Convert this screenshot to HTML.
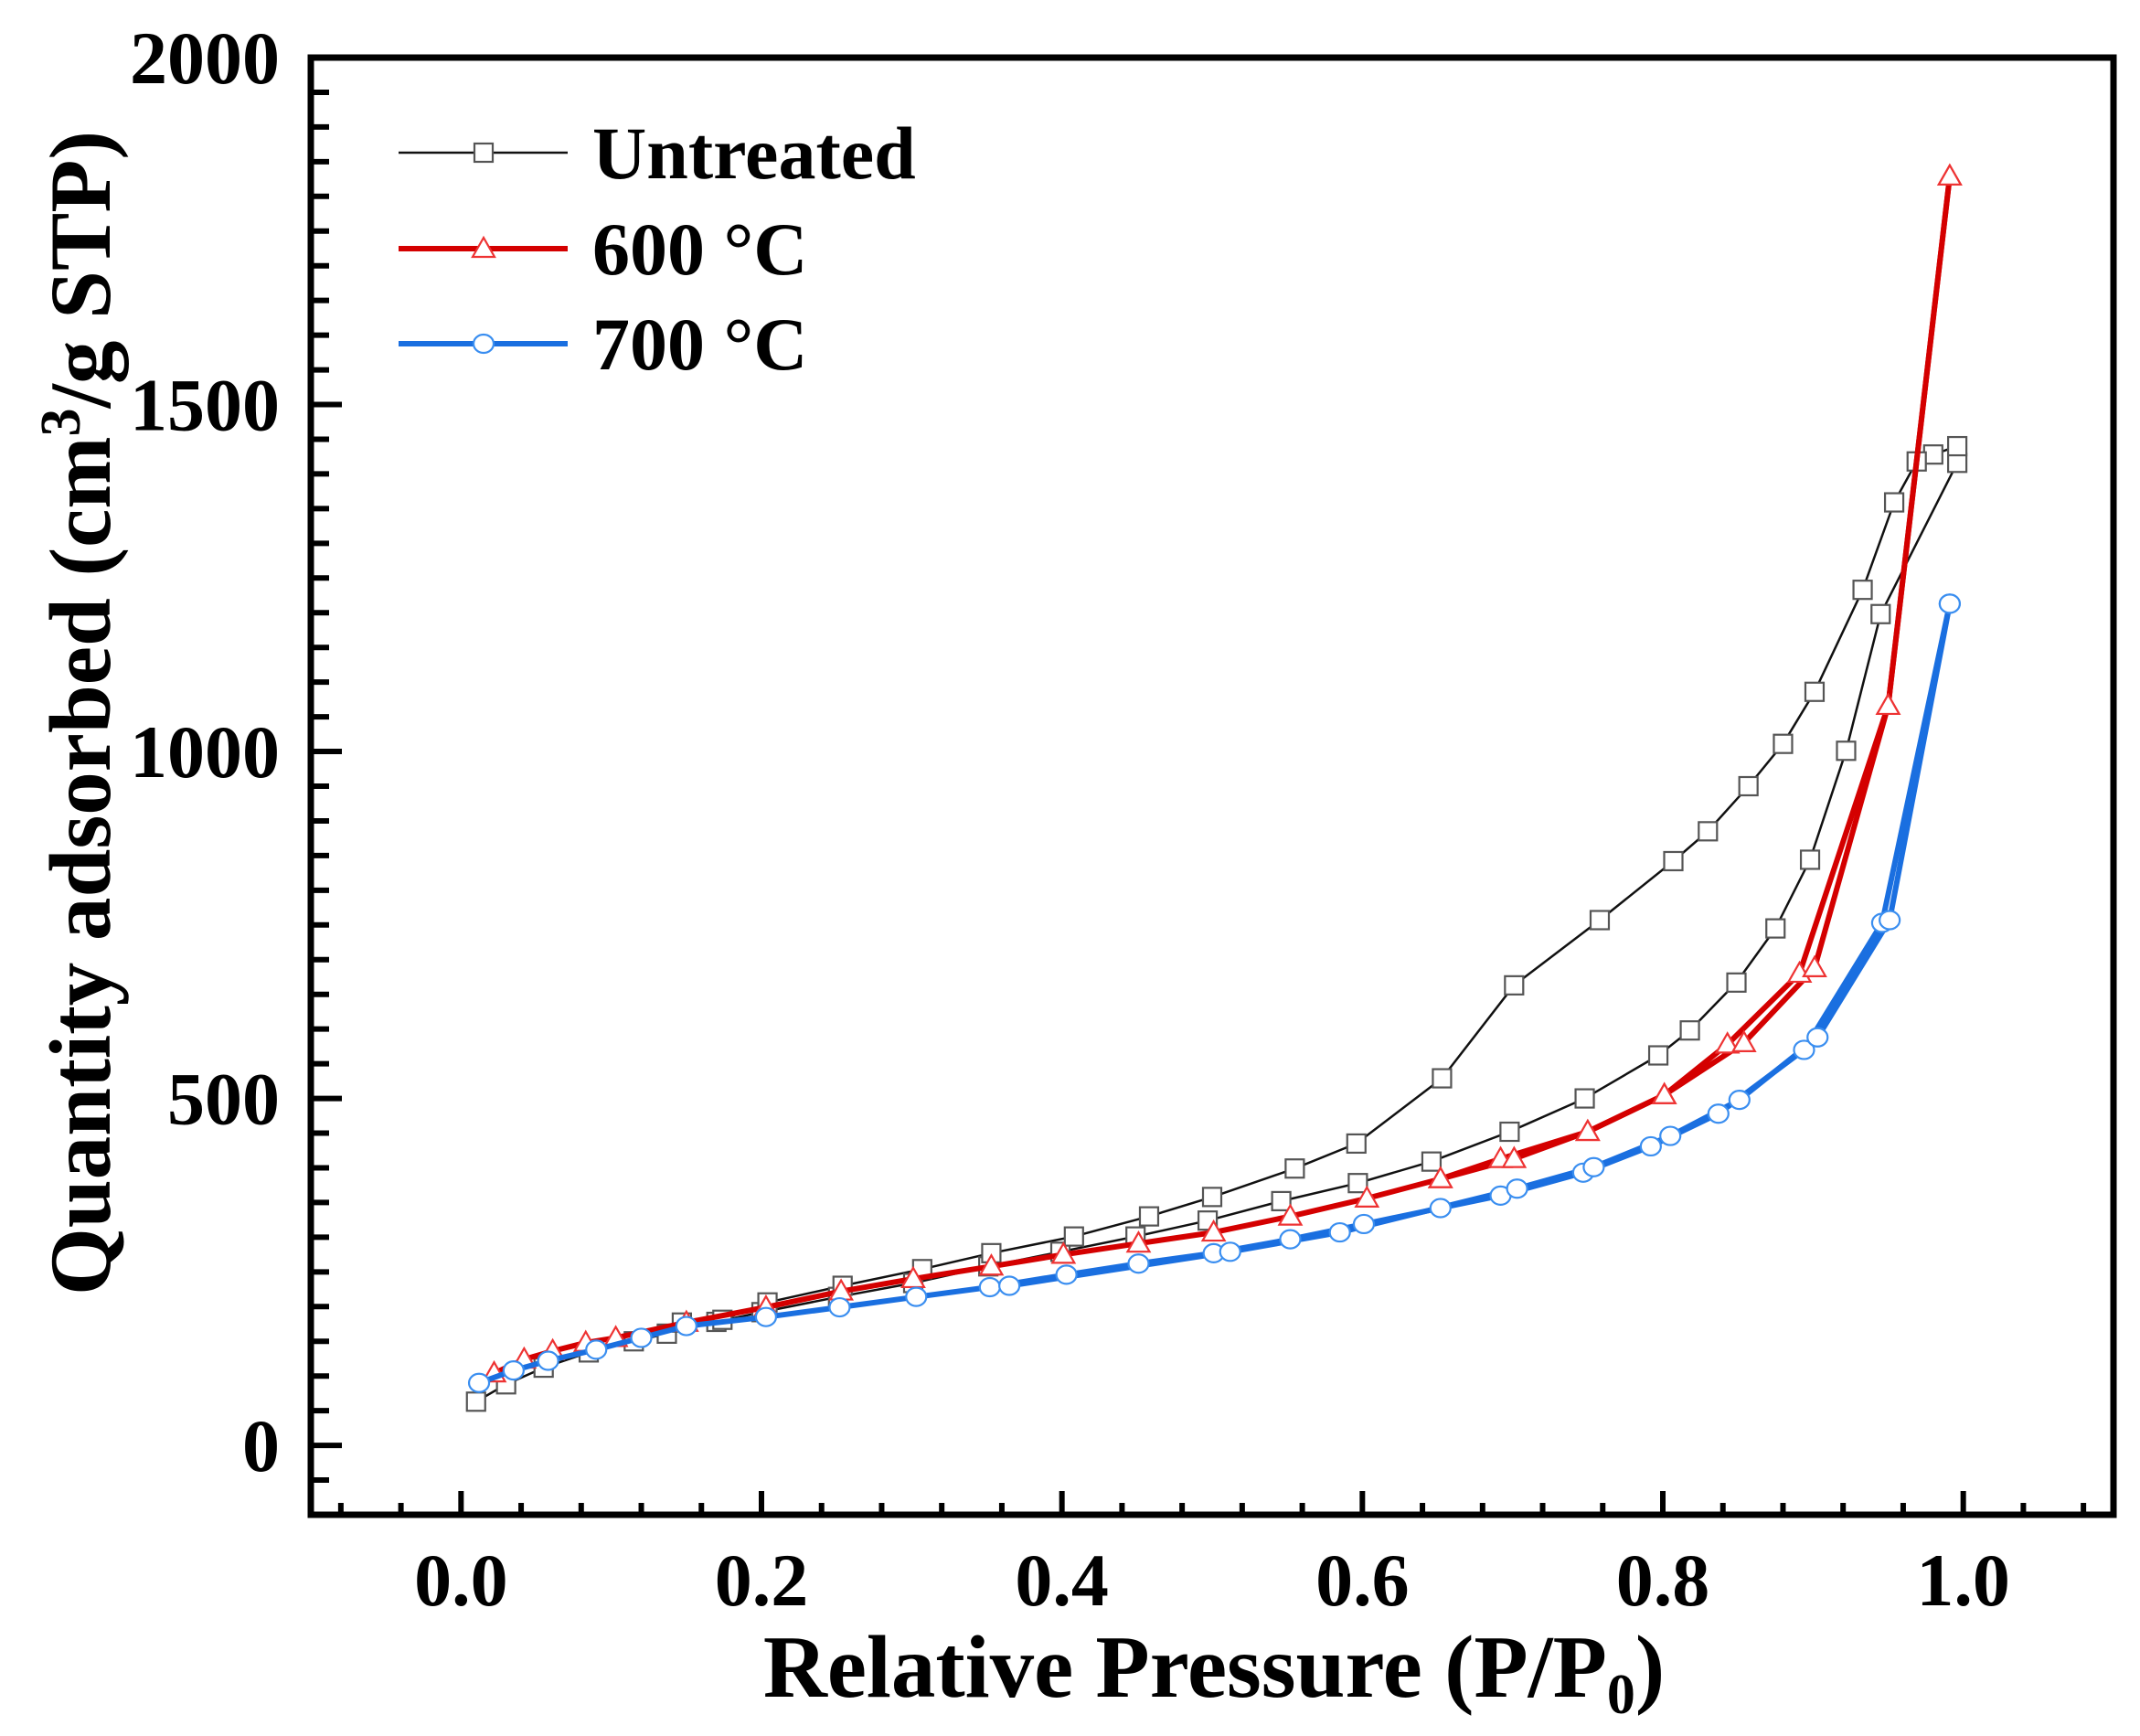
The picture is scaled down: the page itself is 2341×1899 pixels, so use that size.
<!DOCTYPE html>
<html><head><meta charset="utf-8"><style>
html,body{margin:0;padding:0;background:#fff;}
svg{display:block;font-family:"Liberation Serif",serif;font-weight:bold;}
</style></head><body>
<svg id="chart" width="2341" height="1899" viewBox="0 0 2341 1899">
<g id="plot"></g>
</svg>
<script>
const xTicksMajor = [0, 0.2, 0.4, 0.6, 0.8, 1.0];
const xTickLabels = ["0.0","0.2","0.4","0.6","0.8","1.0"];
const yTicksMajor = [0, 500, 1000, 1500, 2000];
const yTickLabels = ["0","500","1000","1500","2000"];

const untreatedAdsX = [0.01,0.03,0.055,0.085,0.115,0.137,0.17,0.2,0.251,0.301,0.351,0.399,0.449,0.497,0.546,0.597,0.646,0.698,0.748,0.797,0.818,0.849,0.875,0.898,0.922,0.945,0.996];
const untreatedAdsY = [63,88,112,134,150,161,178,192,214,234,258,279,301,324,352,378,409,452,500,562,598,667,745,844,1001,1198,1416];
const untreatedDesX = [0.996,0.98,0.969,0.954,0.933,0.901,0.88,0.857,0.83,0.807,0.758,0.701,0.653,0.596,0.555,0.5,0.458,0.408,0.353,0.307,0.254,0.204,0.174,0.147];
const untreatedDesY = [1440,1428,1418,1359,1233,1086,1011,950,885,842,757,663,529,435,399,358,330,301,277,254,230,206,181,177];

const c600AdsX = [0.022,0.042,0.061,0.083,0.103,0.15,0.203,0.253,0.301,0.353,0.401,0.451,0.501,0.552,0.603,0.652,0.692,0.75,0.801,0.843,0.891,0.95,0.991];
const c600AdsY = [104,124,136,148,155,177,199,222,240,258,275,291,307,330,356,384,413,452,505,578,680,1066,1829];
const c600DesX = [0.991,0.95,0.901,0.854,0.801,0.75,0.701,0.652];
const c600DesY = [1829,1066,688,580,505,452,413,384];

const c700AdsX = [0.012,0.035,0.058,0.09,0.12,0.15,0.203,0.252,0.303,0.352,0.403,0.451,0.501,0.552,0.601,0.652,0.692,0.747,0.792,0.837,0.894,0.946,0.991];
const c700AdsY = [90,108,122,138,155,172,185,199,214,228,246,262,277,297,319,342,360,393,431,478,570,753,1213];
const c700DesX = [0.991,0.951,0.903,0.851,0.805,0.754,0.703,0.585,0.512,0.365];
const c700DesY = [1213,757,588,498,446,401,370,307,279,230];

const X0=-0.1, X1=1.1, Y0=-100, Y1=2000;
const L=340, R=2312, T=63, B=1657;
function sx(v){return L+(v-X0)/(X1-X0)*(R-L);}
function sy(v){return B-(v-Y0)/(Y1-Y0)*(B-T);}
const NS="http://www.w3.org/2000/svg";
const plot=document.getElementById('plot');
function mk(tag,attrs,parent){const e=document.createElementNS(NS,tag);for(const k in attrs)e.setAttribute(k,attrs[k]);(parent||plot).appendChild(e);return e;}

const ticks=mk('g',{});


for(let i=-2;i<=27;i++){const v=i*0.04;const x=sx(v);if(x<L+3||x>R-3)continue;
 const major=(i%5===0);mk('line',{x1:x,x2:x,y1:B,y2:B-(major?26:13),stroke:'#000','stroke-width':6},ticks);}
for(let i=-1;i<=39;i++){const v=i*50;const y=sy(v);if(y<T+3||y>B-3)continue;
 const major=(i%10===0);mk('line',{x1:L,x2:L+(major?34:20),y1:y,y2:y,stroke:'#000','stroke-width':6},ticks);}

xTicksMajor.forEach((v,i)=>{const t=mk('text',{x:sx(v),y:1756,'text-anchor':'middle','font-size':82});t.textContent=xTickLabels[i];
 
 });
yTicksMajor.forEach((v,i)=>{const t=mk('text',{x:306,y:sy(v)+28,'text-anchor':'end','font-size':82});t.textContent=yTickLabels[i];
 
 });

function pts(xs,ys){return xs.map((x,i)=>sx(x).toFixed(1)+','+sy(ys[i]).toFixed(1)).join(' ');}
function marker(type,x,y,color,g){
 if(type==='sq')return mk('rect',{x:x-10,y:y-10,width:20,height:20,fill:'#fff',stroke:'#555','stroke-width':2.2},g);
 if(type==='tri')return mk('polygon',{points:`${x},${y-12} ${x-12},${y+9} ${x+12},${y+9}`,fill:'#fff',stroke:'#ee3333','stroke-width':2.2},g);
 return mk('ellipse',{cx:x,cy:y,rx:11,ry:10,fill:'#fff',stroke:'#3a8ef0','stroke-width':2.2},g);
}
function series(name,sets,color,w,type){
 const g=mk('g',{});
 
 
 sets.forEach(([xs,ys])=>{const pl=mk('polyline',{points:pts(xs,ys),fill:'none',stroke:color,'stroke-width':w,'stroke-linejoin':'round'},g);
  
  });
 sets.forEach(([xs,ys])=>{xs.forEach((x,i)=>{const m=marker(type,sx(x),sy(ys[i]),color,g);
  
  });});
}
series('series-untreated',[[untreatedAdsX,untreatedAdsY],[untreatedDesX,untreatedDesY]],'#111',2.5,'sq');
series('series-600c',[[c600AdsX,c600AdsY],[c600DesX,c600DesY]],'#d40000',6,'tri');
series('series-700c',[[c700AdsX,c700AdsY],[c700DesX,c700DesY]],'#1a6fe0',6,'ci');

const fr=mk('rect',{x:L,y:T,width:R-L,height:B-T,fill:'none',stroke:'#000','stroke-width':7});



const legNames=['Untreated','600 °C','700 °C'];
const legColors=['#111','#d40000','#1a6fe0'];
const legW=[2.5,6,6];const legT=['sq','tri','ci'];const legY=[167,272,376];
const lg=mk('g',{});


legNames.forEach((n,i)=>{
 const e=mk('g',{},lg);
 
 
 mk('line',{x1:436,x2:621,y1:legY[i],y2:legY[i],stroke:legColors[i],'stroke-width':legW[i]},e);
 marker(legT[i],529,legY[i],legColors[i],e);
 const t=mk('text',{x:648,y:legY[i]+28,'font-size':82},e);t.textContent=n;
});

const xt=mk('text',{x:1328,y:1856,'text-anchor':'middle','font-size':97});
xt.innerHTML='Relative Pressure (P/P<tspan font-size="62" dy="18">0</tspan><tspan dy="-18">)</tspan>';


const yt=mk('text',{x:0,y:0,'text-anchor':'middle','font-size':95,transform:'translate(120,780) rotate(-90)'});
yt.innerHTML='Quantity adsorbed (cm<tspan font-size="62" dy="-33">3</tspan><tspan dy="33">/g STP)</tspan>';


</script>
</body></html>
